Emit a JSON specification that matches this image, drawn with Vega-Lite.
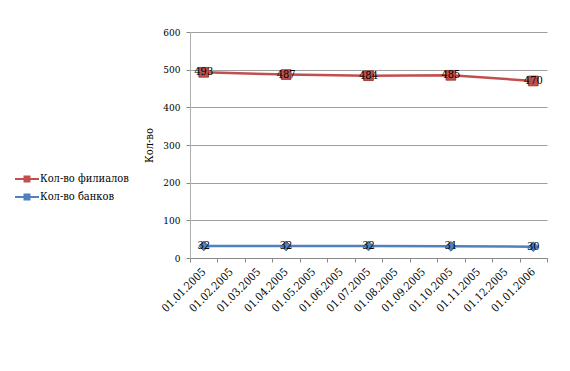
{
  "$schema": "https://vega.github.io/schema/vega-lite/v6.json",
  "width": 357,
  "height": 226,
  "autosize": {"type": "none"},
  "padding": {"left": 190, "top": 32, "right": 23, "bottom": 113},
  "background": "white",
  "config": {
    "font": "DejaVu Serif Condensed, DejaVu Serif",
    "view": {"stroke": null},
    "text": {"font": "DejaVu Serif Condensed, DejaVu Serif"},
    "axis": {"labelFont": "DejaVu Serif Condensed, DejaVu Serif", "titleFont": "DejaVu Serif Condensed, DejaVu Serif", "labelFontSize": 11, "labelColor": "black", "titleColor": "black"},
    "legend": {"labelFont": "DejaVu Serif Condensed, DejaVu Serif"}
  },
  "data": {
    "values": [
      {"date": "01.01.2005", "series": "Кол-во филиалов", "value": 493},
      {"date": "01.04.2005", "series": "Кол-во филиалов", "value": 487},
      {"date": "01.07.2005", "series": "Кол-во филиалов", "value": 484},
      {"date": "01.10.2005", "series": "Кол-во филиалов", "value": 485},
      {"date": "01.01.2006", "series": "Кол-во филиалов", "value": 470},
      {"date": "01.01.2005", "series": "Кол-во банков", "value": 32},
      {"date": "01.04.2005", "series": "Кол-во банков", "value": 32},
      {"date": "01.07.2005", "series": "Кол-во банков", "value": 32},
      {"date": "01.10.2005", "series": "Кол-во банков", "value": 31},
      {"date": "01.01.2006", "series": "Кол-во банков", "value": 30}
    ]
  },
  "encoding": {
    "x": {
      "field": "date", "type": "ordinal", "title": null,
      "scale": {"domain": ["01.01.2005","01.02.2005","01.03.2005","01.04.2005","01.05.2005","01.06.2005","01.07.2005","01.08.2005","01.09.2005","01.10.2005","01.11.2005","01.12.2005","01.01.2006"], "paddingInner": 0, "paddingOuter": 0},
      "axis": {"labelAngle": -45, "labelAlign": "right", "labelBaseline": "middle", "domainColor": "#888888", "tickColor": "#888888", "tickBand": "extent", "tickSize": 4, "labelPadding": 8, "grid": false}
    },
    "y": {
      "field": "value", "type": "quantitative", "title": "Кол-во",
      "scale": {"domain": [0, 600]},
      "axis": {"values": [0,100,200,300,400,500,600], "domainColor": "#b0b0b0", "tickColor": "#888888", "tickSize": 4, "gridColor": "#888888", "gridWidth": 0.8, "labelPadding": 6, "labelFontSize": 10, "titleFontSize": 11, "titleFontWeight": "normal", "titlePadding": 8}
    },
    "color": {
      "field": "series", "type": "nominal",
      "scale": {"domain": ["Кол-во филиалов", "Кол-во банков"], "range": ["#C0504D", "#4F81BD"]},
      "legend": {"orient": "none", "legendX": -174, "legendY": 136, "title": null, "labelFontSize": 11, "labelColor": "black", "symbolType": "M-1.2,0H1.2M-0.25,-0.25H0.25V0.25H-0.25Z", "symbolSize": 400, "symbolStrokeWidth": 2, "rowPadding": 0, "labelOffset": 2}
    }
  },
  "layer": [
    {"mark": {"type": "line", "strokeWidth": 2.5}},
    {"mark": {"type": "point", "filled": true, "size": 95, "opacity": 1, "strokeWidth": 0.8}, "encoding": {
      "shape": {"condition": {"test": "datum.series === 'Кол-во банков'", "value": "diamond"}, "value": "square"},
      "stroke": {"condition": {"test": "datum.series === 'Кол-во банков'", "value": "#2C5A8C"}, "value": "#8C2F2C"}
    }},
    {"mark": {"type": "text", "fontSize": 11, "color": "black"}, "encoding": {"text": {"field": "value"}, "color": {"value": "black"}}}
  ]
}
